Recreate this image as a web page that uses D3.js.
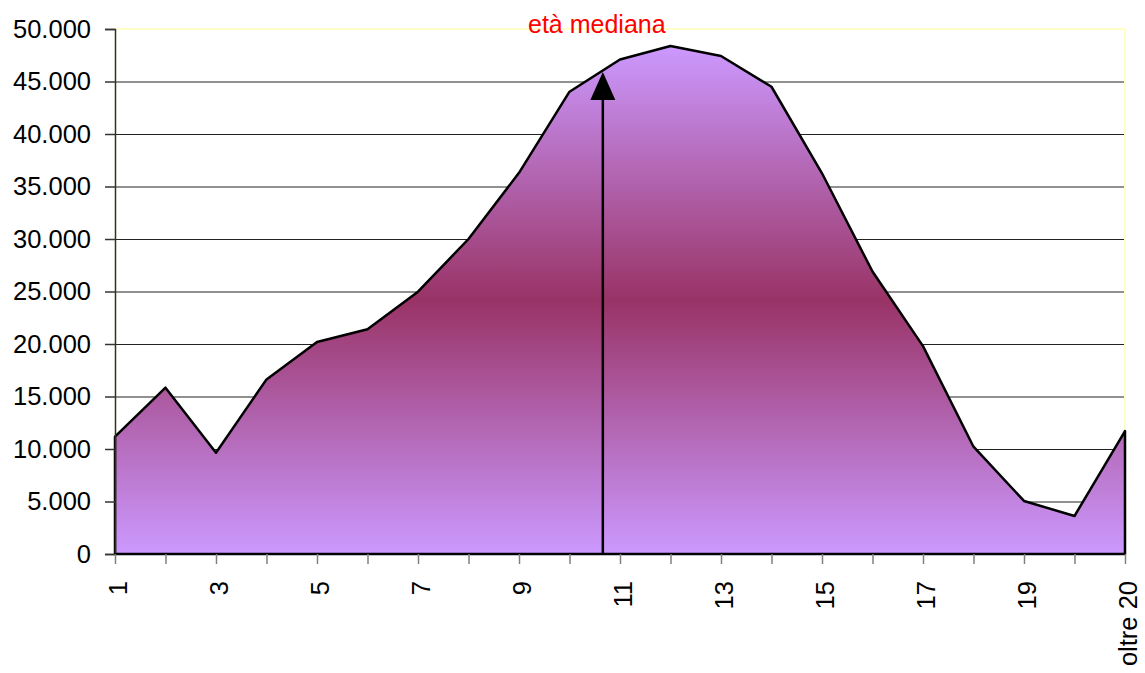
<!DOCTYPE html>
<html>
<head>
<meta charset="utf-8">
<script src="https://cdn.jsdelivr.net/npm/d3@7/dist/d3.min.js"></script>
<style>
  html, body { margin: 0; padding: 0; background: #ffffff; }
  svg { display: block; font-family: "Liberation Sans", Arial, sans-serif; }
</style>
</head>
<body>
<svg id="chart" width="1145" height="673"></svg>
<script>
// ---- data ----
const categories = ["1","2","3","4","5","6","7","8","9","10","11","12","13","14","15","16","17","18","19","20","oltre 20"];
const values = [11170, 15840, 9650, 16630, 20190, 21400, 24980, 30000, 36300, 44030, 47100, 48380, 47430, 44500, 36260, 26900, 19800, 10220, 5050, 3620, 11710];
const shownLabels = ["1","3","5","7","9","11","13","15","17","19","oltre 20"];
const yTicks = [0, 5000, 10000, 15000, 20000, 25000, 30000, 35000, 40000, 45000, 50000];
const medianPosition = 9.66;   // position along the category axis (0 = "1")
const medianValue = 45900;     // where the arrow tip touches the curve
const medianLabel = "età mediana";

// ---- layout ----
const svg = d3.select("#chart");
const pLeft = 115, pRight = 1125, pTop = 29, pBottom = 554;
const fs = 25.5;

const x = d3.scalePoint().domain(categories).range([pLeft, pRight]);
const xLin = d3.scaleLinear().domain([0, categories.length - 1]).range([pLeft, pRight]);
const y = d3.scaleLinear().domain([0, 50000]).range([pBottom, pTop]);

const loc = d3.formatLocale({decimal: ",", thousands: ".", grouping: [3], currency: ["", ""]});
const fmt = loc.format(",");

// gradient
const defs = svg.append("defs");
const grad = defs.append("linearGradient").attr("id", "fillGrad")
  .attr("x1", 0).attr("y1", 0).attr("x2", 0).attr("y2", 1);
grad.append("stop").attr("offset", "0%").attr("stop-color", "#cc99ff");
grad.append("stop").attr("offset", "50%").attr("stop-color", "#993366");
grad.append("stop").attr("offset", "100%").attr("stop-color", "#cc99ff");

// gridlines
const grid = svg.append("g").attr("transform", `translate(${pLeft},0)`)
  .call(d3.axisLeft(y).tickValues(yTicks.filter(v => v > 0 && v < 50000)).tickSize(-(pRight - pLeft)).tickFormat(""));
grid.select(".domain").remove();
grid.selectAll("line").attr("stroke", "#222").attr("stroke-width", 1);

// plot border (top & right) pale yellow
svg.append("line").attr("x1", pLeft).attr("x2", pRight).attr("y1", pTop).attr("y2", pTop)
  .attr("stroke", "#ffffc8").attr("stroke-width", 2);
svg.append("line").attr("x1", pRight).attr("x2", pRight).attr("y1", pTop).attr("y2", pBottom)
  .attr("stroke", "#ffffc8").attr("stroke-width", 2);

// area
const area = d3.area()
  .x((d, i) => x(categories[i]))
  .y0(y(0))
  .y1(d => y(d));
svg.append("path").datum(values)
  .attr("d", area)
  .attr("fill", "url(#fillGrad)")
  .attr("stroke", "#000")
  .attr("stroke-width", 2.5)
  .attr("stroke-linejoin", "round");

// y axis
const yAxis = svg.append("g").attr("transform", `translate(${pLeft},0)`)
  .call(d3.axisLeft(y).tickValues(yTicks).tickSize(10).tickPadding(14).tickFormat(fmt));
yAxis.select(".domain").attr("stroke", "#33331a").attr("stroke-width", 1.5);
yAxis.selectAll(".tick line").attr("stroke", "#333").attr("stroke-width", 1.5);
yAxis.selectAll("text").attr("font-size", fs).attr("fill", "#000")
  .attr("font-family", "Liberation Sans, Arial, sans-serif");

// x axis
const xAxis = svg.append("g").attr("transform", `translate(0,${pBottom})`)
  .call(d3.axisBottom(x).tickSize(10).tickFormat(d => shownLabels.includes(d) ? d : ""));
xAxis.select(".domain").attr("stroke", "#000").attr("stroke-width", 2).attr("d", `M${pLeft},0H${pRight}`);
xAxis.selectAll(".tick line").attr("stroke", "#808080").attr("stroke-width", 1.5);
xAxis.selectAll("text")
  .attr("font-size", fs).attr("fill", "#000")
  .attr("font-family", "Liberation Sans, Arial, sans-serif")
  .attr("text-anchor", "end")
  .attr("transform", "rotate(-90)")
  .attr("x", -27).attr("y", 0).attr("dy", "0.46em");

// median arrow
const ax = xLin(medianPosition);
const tipY = y(medianValue);
const headH = 28, headW = 12.5;
svg.append("line").attr("x1", ax).attr("x2", ax).attr("y1", y(0)).attr("y2", tipY + headH)
  .attr("stroke", "#000").attr("stroke-width", 2.5);
svg.append("path")
  .attr("d", `M${ax},${tipY}L${ax - headW},${tipY + headH}L${ax + headW},${tipY + headH}Z`)
  .attr("fill", "#000");
svg.append("text").attr("x", ax - 6).attr("y", 33)
  .attr("text-anchor", "middle").attr("font-size", 25).attr("fill", "#ff0000")
  .text(medianLabel);
</script>
</body>
</html>
